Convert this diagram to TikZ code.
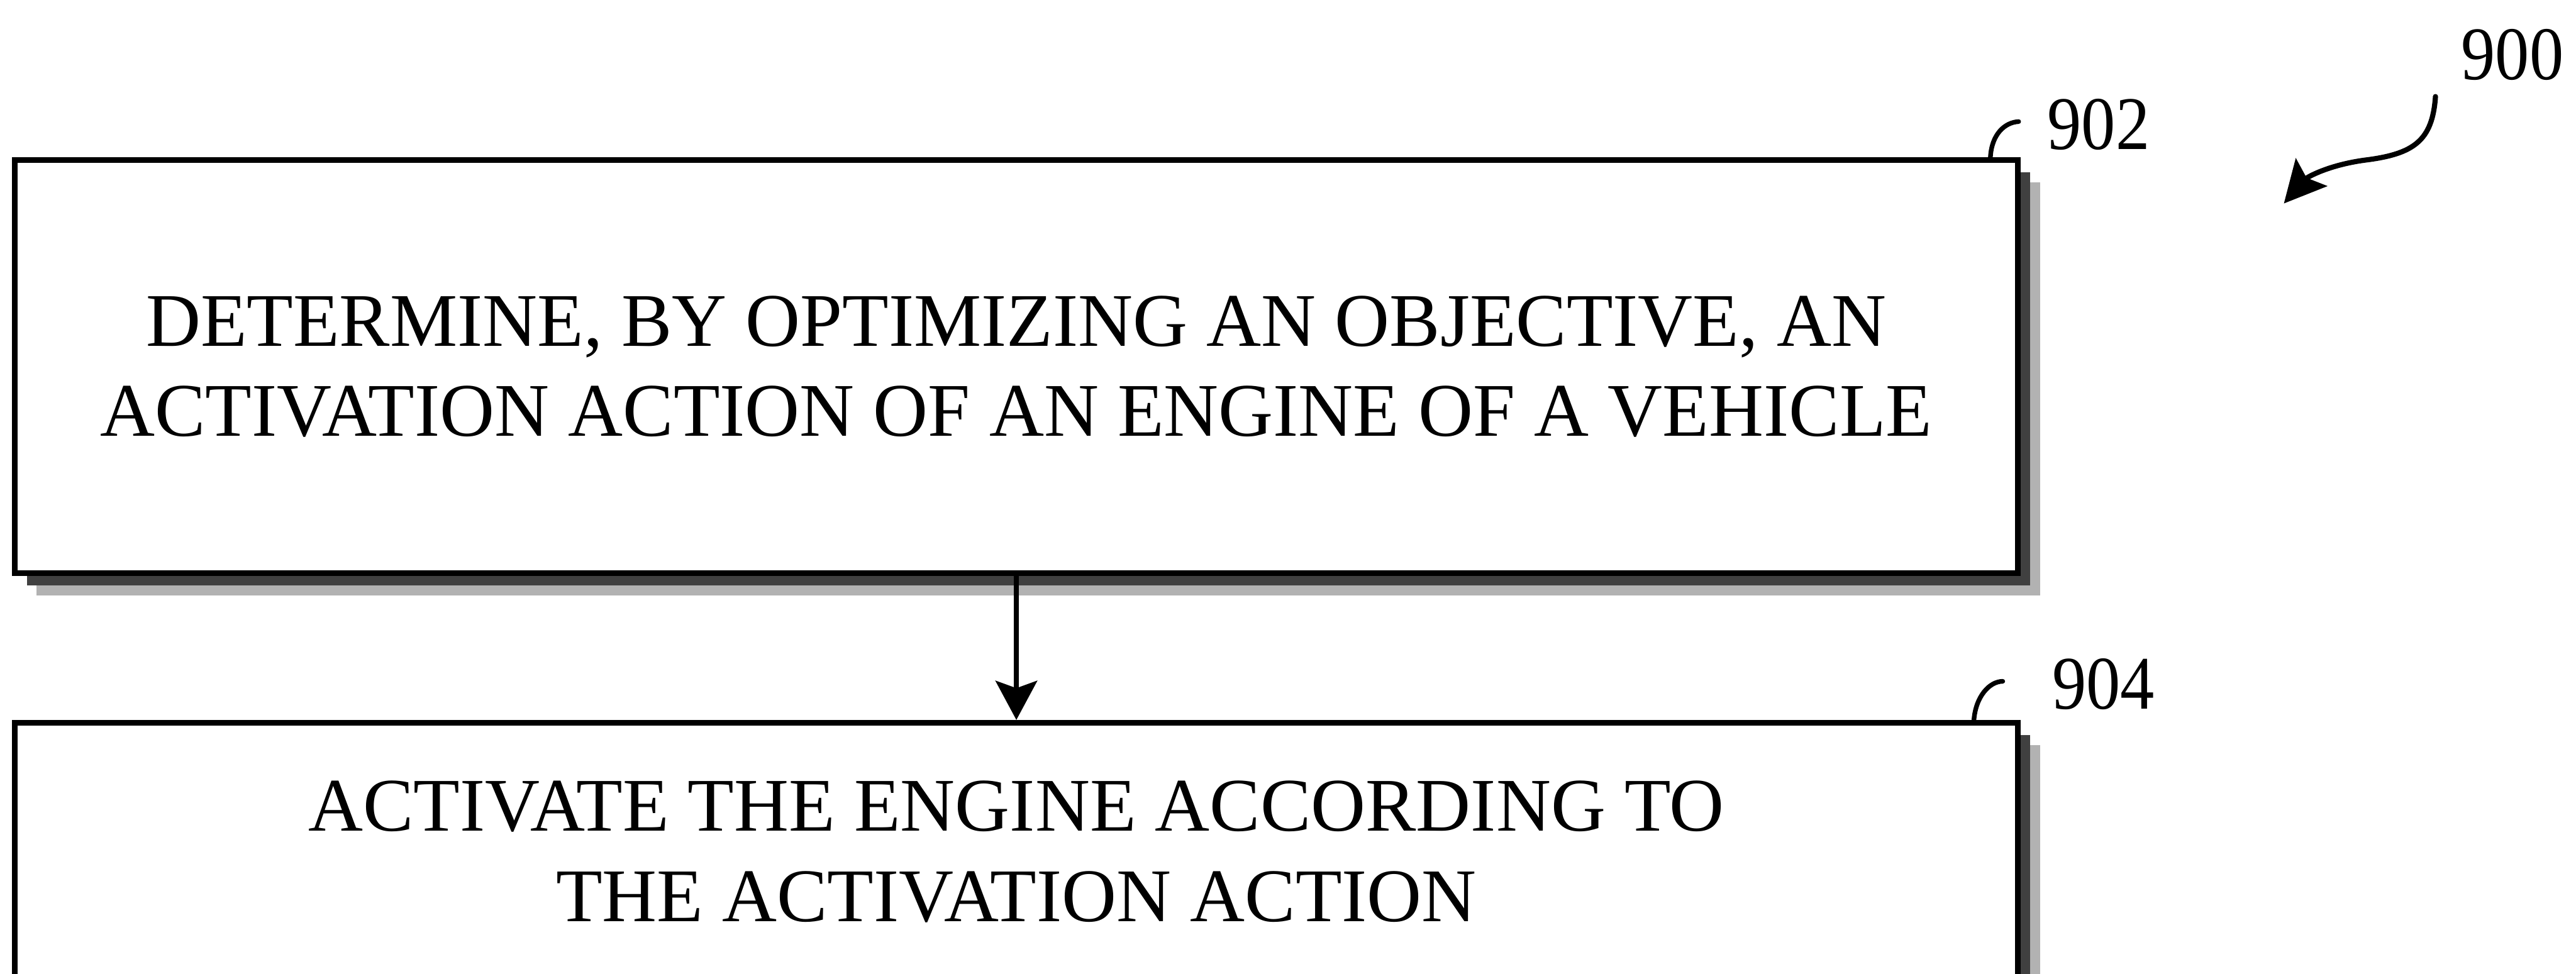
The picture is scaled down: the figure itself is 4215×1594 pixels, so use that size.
\documentclass[tikz,border=0pt]{standalone}
\usepackage{fontspec}
\setmainfont{Liberation Serif}
\newfontfamily\labelfont[FakeStretch=0.9]{Liberation Serif}
\usetikzlibrary{arrows.meta,shadows,calc}

\begin{document}
\begin{tikzpicture}[x=0.25pt,y=-0.25pt,
  stepbox/.style={draw=black, line width=2.4pt, fill=white, rectangle, align=center, inner sep=0pt,
    font=\fontsize{31}{37}\selectfont,
    general shadow={fill=black!30, shadow xshift=9pt, shadow yshift=-9pt},
    general shadow={fill=black!75, shadow xshift=5pt, shadow yshift=-5pt}},
  reflabel/.style={font=\labelfont\fontsize{31}{37}\selectfont, inner sep=0pt},
  leader/.style={line width=1.9pt, line cap=round},
  flow/.style={line width=1.9pt, -{Stealth[length=16pt,width=17pt,inset=3pt]}},
  figarrow/.style={line width=2.1pt, line cap=round, -{Stealth[length=17pt,width=17pt,inset=3pt]}}
]
\useasboundingbox (0,0) rectangle (4215,1594);
\fill[white] (0,0) rectangle (4215,1594);
\clip (0,0) rectangle (4215,1594);

% boxes
\node[stepbox, minimum width=819.5pt, minimum height=169pt] (b1) at (1663,600)
  {DETERMINE, BY OPTIMIZING AN OBJECTIVE, AN\\ACTIVATION ACTION OF AN ENGINE OF A VEHICLE};
\node[stepbox, minimum width=819.5pt, minimum height=105.25pt] (b2) at (1663,1393.5)
  {ACTIVATE THE ENGINE ACCORDING TO\\THE ACTIVATION ACTION};

% flow arrow
\draw[flow] (b1.south) -- (b2.north);

% reference labels
\node[reflabel] (r902) at (3434,204) {902};
\node[reflabel] (r904) at (3442,1120) {904};
\node[reflabel] (r900) at (4111,90) {900};

% leader lines
\coordinate (l1s) at ($(b1.north east)+(-50,0)$);
\coordinate (l1e) at (3303,199);
\draw[leader] (l1s) .. controls ($(l1s)+(2,-37)$) and ($(l1s)+(23,-57)$) .. (l1e);

\coordinate (l2s) at ($(b2.north east)+(-77,0)$);
\coordinate (l2e) at (3277,1115);
\draw[leader] (l2s) .. controls ($(l2s)+(3,-38)$) and ($(l2s)+(25,-63)$) .. (l2e);

% figure arrow
\coordinate (a0s) at (3985,158);
\coordinate (a0e) at (3737,333);
\draw[figarrow] (a0s) .. controls (3980,230) and (3950,252) .. (3870,262)
  .. controls (3810,270) and (3775,290) .. (a0e);
\end{tikzpicture}
\end{document}
